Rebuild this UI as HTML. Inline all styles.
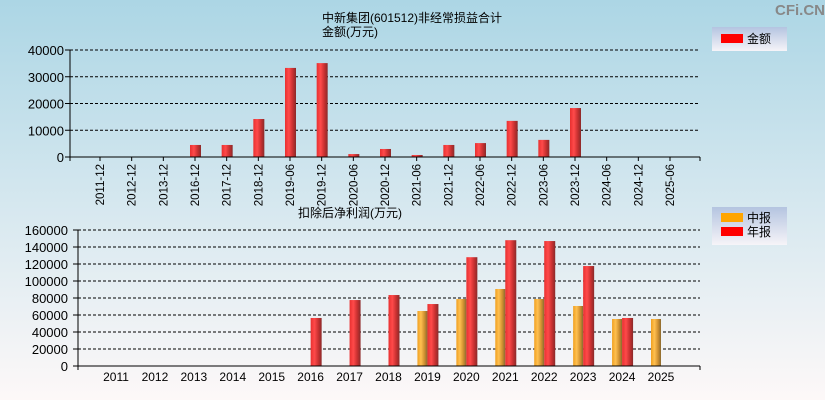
<!DOCTYPE html>
<html><head><meta charset="utf-8"><style>
body{margin:0;width:825px;height:400px;overflow:hidden;font-family:"Liberation Sans","Noto Sans CJK SC",sans-serif;}
#bg{position:absolute;left:0;top:0;width:825px;height:400px;background:linear-gradient(#acd6e5,#d9e9f0 55%,#fdf8f8);}
svg{position:absolute;left:0;top:0}
</style></head><body>
<div id="bg"></div>
<svg id="c" width="825" height="400">
<defs>
<linearGradient id="gr" x1="0" x2="1"><stop offset="0" stop-color="#e83030"/><stop offset="0.35" stop-color="#ff4a4a"/><stop offset="0.7" stop-color="#c83030"/><stop offset="1" stop-color="#8a2a2a"/></linearGradient>
<linearGradient id="go" x1="0" x2="1"><stop offset="0" stop-color="#f0a020"/><stop offset="0.35" stop-color="#ffc050"/><stop offset="0.7" stop-color="#d09030"/><stop offset="1" stop-color="#8a6a30"/></linearGradient>
<linearGradient id="lg" x1="0" y1="0" x2="0" y2="1"><stop offset="0" stop-color="#b4c4e0"/><stop offset="1" stop-color="#f6f4f8"/></linearGradient>
</defs>
<text x="775" y="15" font-size="15" font-weight="bold" fill="#888">CFi.CN</text>
<text x="412" y="22" font-size="12" text-anchor="middle">中新集团(601512)非经常损益合计</text>
<text x="350" y="36" font-size="12" text-anchor="middle">金额(万元)</text>
<text x="350" y="217" font-size="12" text-anchor="middle">扣除后净利润(万元)</text>
<g>
<rect x="712" y="27" width="75" height="24" fill="url(#lg)"/>
<rect x="721" y="34" width="22" height="9" fill="#f00"/>
<text x="747" y="43" font-size="12">金额</text></g>
<g>
<rect x="712" y="207" width="75" height="38" fill="url(#lg)"/>
<rect x="721" y="213" width="22" height="9" fill="#ffa500"/>
<text x="747" y="222" font-size="12">中报</text>
<rect x="721" y="227" width="22" height="9" fill="#f00"/>
<text x="747" y="236" font-size="12">年报</text></g>
</svg>
<script>
const topCats=["2011-12","2012-12","2013-12","2016-12","2017-12","2018-12","2019-06","2019-12","2020-06","2020-12","2021-06","2021-12","2022-06","2022-12","2023-06","2023-12","2024-06","2024-12","2025-06"];
const topVals=[0,0,0,4500,4500,14200,33300,35100,1100,3000,750,4500,5200,13500,6400,18300,0,0,0];
const topTicks=[0,10000,20000,30000,40000];
const botCats=["2011","2012","2013","2014","2015","2016","2017","2018","2019","2020","2021","2022","2023","2024","2025"];
const halfVals=[0,0,0,0,0,0,0,0,64700,78800,90600,78800,70600,55300,55300];
const annualVals=[0,0,0,0,0,56500,77600,83500,72900,128000,148000,147000,117600,56500,0];
const botTicks=[0,20000,40000,60000,80000,100000,120000,140000,160000];

const svg=document.getElementById('c');const NS="http://www.w3.org/2000/svg";
function mk(t,a,p){const e=document.createElementNS(NS,t);for(const k in a)e.setAttribute(k,a[k]);(p||svg).appendChild(e);return e;}
// top chart
const tX0=70,tX1=700,tY0=157,tY1=50,tMax=40000;
const ty=v=>tY0-(v/tMax)*(tY0-tY1);
const tStep=(tX1-tX0)/topCats.length;
const tx=i=>tX0+30+i*(670-100)/(topCats.length-2)*((topCats.length-2)/(topCats.length-1))*((topCats.length-1)/ (topCats.length-1));
const txc=i=>100+i*((670-100)/(topCats.length-1));
topTicks.forEach(v=>{
 if(v>0){const l=mk('line',{x1:tX0,x2:tX1,y1:ty(v),y2:ty(v),stroke:'#000','stroke-dasharray':'3,2'});}
 mk('line',{x1:tX0-5,x2:tX0,y1:ty(v),y2:ty(v),stroke:'#000'});
 const t=mk('text',{x:tX0-6,y:ty(v)+5,'font-size':13,'text-anchor':'end'});t.textContent=v;
 
});
topVals.forEach((v,i)=>{
 const c=txc(i);
 if(v>0){const r=mk('rect',{x:c-5,y:ty(v),width:11,height:tY0-ty(v),fill:'url(#gr)'});
 }
 mk('line',{x1:c,x2:c,y1:tY0,y2:tY0+4,stroke:'#000'});
 const t=mk('text',{x:0,y:0,'font-size':11.5,'text-anchor':'end',transform:`translate(${c+4},${tY0+7}) rotate(-90)`});t.textContent=topCats[i];
 
});
mk('line',{x1:tX0,x2:tX0,y1:tY1,y2:tY0+4,stroke:'#000'});
mk('line',{x1:tX0,x2:tX1,y1:tY0,y2:tY0,stroke:'#000'});
mk('line',{x1:tX1,x2:tX1,y1:tY0,y2:tY0+4,stroke:'#000'});
// bottom chart
const bX0=78,bX1=700,bY0=366,bY1=230,bMax=160000;
const by=v=>bY0-(v/bMax)*(bY0-bY1);
const bxc=i=>116+i*((661-116)/(botCats.length-1));
botTicks.forEach(v=>{
 if(v>0){const l=mk('line',{x1:bX0,x2:bX1,y1:by(v),y2:by(v),stroke:'#000','stroke-dasharray':'3,2'});}
 mk('line',{x1:bX0-5,x2:bX0,y1:by(v),y2:by(v),stroke:'#000'});
 const t=mk('text',{x:bX0-10,y:by(v)+5,'font-size':13,'text-anchor':'end'});t.textContent=v;
 
});
botCats.forEach((c,i)=>{
 const x=bxc(i);
 if(halfVals[i]>0){const r=mk('rect',{x:x-10,y:by(halfVals[i]),width:10,height:bY0-by(halfVals[i]),fill:'url(#go)'});
 }
 if(annualVals[i]>0){const r=mk('rect',{x:x,y:by(annualVals[i]),width:11,height:bY0-by(annualVals[i]),fill:'url(#gr)'});
 }
 const t=mk('text',{x:x,y:bY0+15,'font-size':12,'text-anchor':'middle'});t.textContent=c;
 
});
mk('line',{x1:bX0,x2:bX0,y1:bY1,y2:bY0+4,stroke:'#000'});
mk('line',{x1:bX0,x2:bX1,y1:bY0,y2:bY0,stroke:'#000'});
mk('line',{x1:bX1,x2:bX1,y1:bY0,y2:bY0+4,stroke:'#000'});
</script>
</body></html>
